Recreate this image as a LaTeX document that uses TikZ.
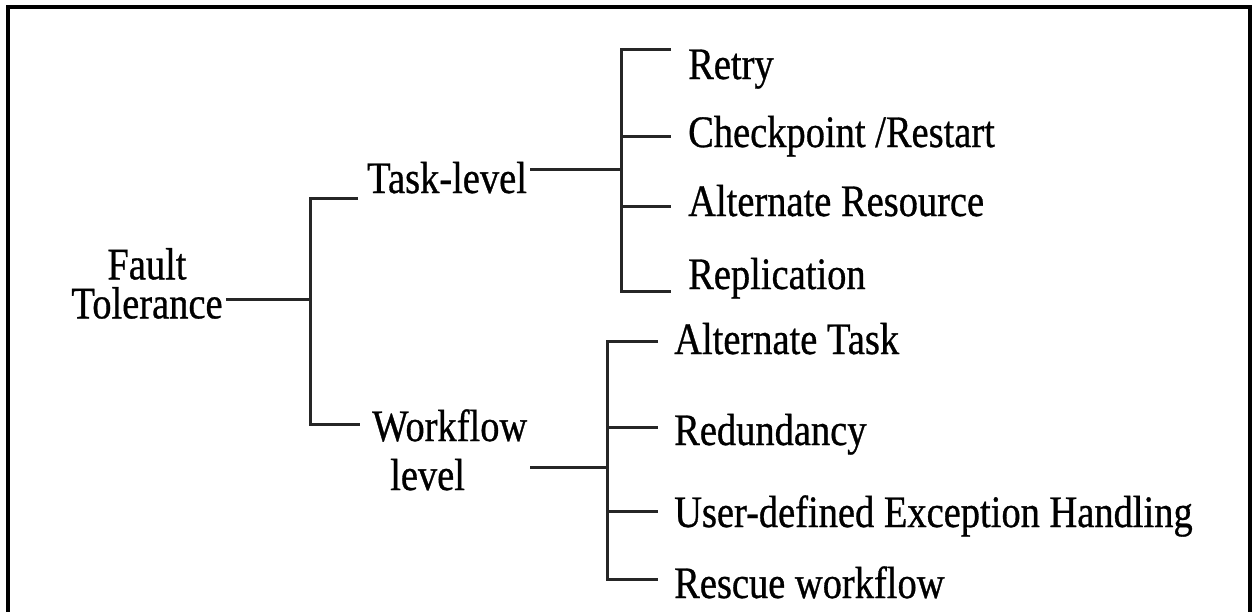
\documentclass[tikz,border=0pt]{standalone}
\usepackage{fontspec}
\setmainfont{Liberation Serif}[FakeStretch=0.855, FakeBold=0.7]
\begin{document}
\begin{tikzpicture}[x=1pt,y=-1pt,
  lbl/.style={font=\fontsize{45}{45}\selectfont, inner sep=0pt, text=black},
  item/.style={lbl, anchor=base west},
  link/.style={line width=3pt, draw=black!85},
  frame/.style={line width=4pt, draw=black}]
\useasboundingbox (0,0) rectangle (1260,611);
% open frame (bottom edge lies outside the page)
\draw[frame] (8,625) -- (8,7) -- (1250,7) -- (1250,625);

% root and second level
\node[lbl, anchor=south, align=center, font=\fontsize{45}{39}\selectfont]
  (ft) at (147,319) {Fault\\Tolerance};
\node[item] (tl) at (367,193) {Task-level};
\node[item] (wf) at (372,441) {Workflow};
\node[item] (wl) at (390,490) {level};

% task-level leaves
\node[item] (t1) at (688,79)  {Retry};
\node[item] (t2) at (688,147) {Checkpoint /Restart};
\node[item] (t3) at (688,216) {Alternate Resource};
\node[item] (t4) at (688,289) {Replication};

% workflow-level leaves
\node[item] (w1) at (674,354) {Alternate Task};
\node[item] (w2) at (674,445) {Redundancy};
\node[item] (w3) at (674,527) {User-defined Exception Handling};
\node[item] (w4) at (674,598) {Rescue workflow};

% junction points
\coordinate (fj) at (310,299);
\coordinate (ftop) at (310,198);
\coordinate (fbot) at (310,424);
\coordinate (tj) at (621,169);
\coordinate (ttop) at (621,49);
\coordinate (tk2) at (621,136);
\coordinate (tk3) at (621,206);
\coordinate (tbot) at (621,291);
\coordinate (wj) at (607,467);
\coordinate (wtop) at (607,341);
\coordinate (wk2) at (607,427);
\coordinate (wk3) at (607,511);
\coordinate (wbot) at (607,579);

% root bracket
\draw[link] ([xshift=3pt]ft.east |- fj) -- (fj);
\draw[link] ([xshift=-9pt]tl.west |- ftop) -- (ftop) -- (fbot) -- ([xshift=-12pt]wf.west |- fbot);

% task-level bracket
\draw[link] ([xshift=3pt]tl.east |- tj) -- (tj);
\draw[link] ([xshift=-17pt]t1.west |- ttop) -- (ttop) -- (tbot) -- ([xshift=-17pt]t4.west |- tbot);
\draw[link] (tk2) -- ([xshift=-17pt]t2.west |- tk2);
\draw[link] (tk3) -- ([xshift=-17pt]t3.west |- tk3);

% workflow-level bracket
\draw[link] ([xshift=3pt]wf.east |- wj) -- (wj);
\draw[link] ([xshift=-16pt]w1.west |- wtop) -- (wtop) -- (wbot) -- ([xshift=-16pt]w4.west |- wbot);
\draw[link] (wk2) -- ([xshift=-16pt]w2.west |- wk2);
\draw[link] (wk3) -- ([xshift=-16pt]w3.west |- wk3);
\end{tikzpicture}
\end{document}
